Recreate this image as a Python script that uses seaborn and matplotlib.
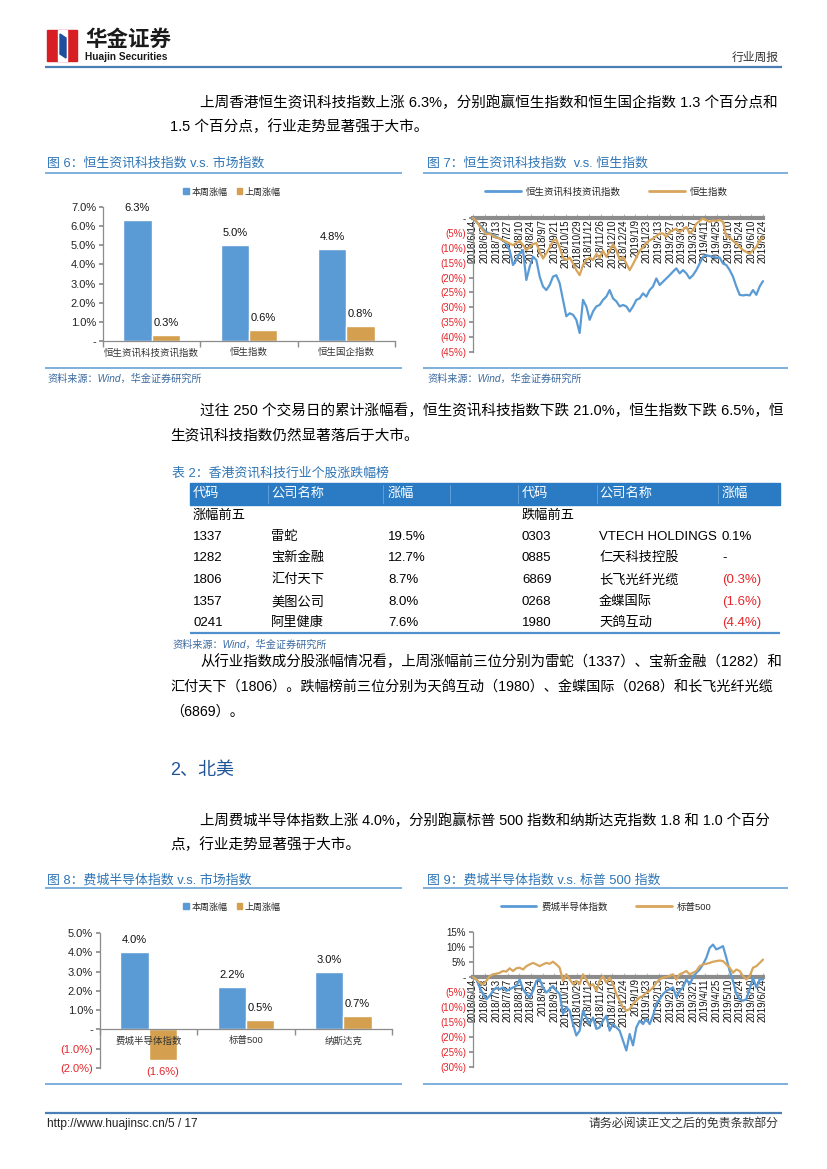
import numpy as np
import pandas as pd
import matplotlib
matplotlib.use("Agg")
import matplotlib.pyplot as plt
import seaborn as sns
from matplotlib.patches import Rectangle, Patch, Polygon
from matplotlib.lines import Line2D

sns.set_theme(style="white")
plt.rcParams["font.family"] = ["Liberation Sans", "Noto Sans CJK SC", "DejaVu Sans"]
plt.rcParams["axes.unicode_minus"] = False

# ---------------- data ----------------
series_names = ["本周涨幅", "上周涨幅"]

bar6_categories = ["恒生资讯科技资讯指数", "恒生指数", "恒生国企指数"]
bar6_this_week = [6.3, 5.0, 4.8]
bar6_last_week = [0.3, 0.6, 0.8]

bar8_categories = ["费城半导体指数", "标普500", "纳斯达克"]
bar8_this_week = [4.0, 2.2, 3.0]
bar8_last_week = [-1.6, 0.5, 0.7]

line7_names = ["恒生资讯科技资讯指数", "恒生指数"]
line7_dates = ["2018/6/14", "2018/6/29", "2018/7/13", "2018/7/27", "2018/8/10", "2018/8/24",
               "2018/9/7", "2018/9/21", "2018/10/15", "2018/10/29", "2018/11/12", "2018/11/26",
               "2018/12/10", "2018/12/24", "2019/1/9", "2019/1/23", "2019/2/13", "2019/2/27",
               "2019/3/13", "2019/3/27", "2019/4/11", "2019/4/25", "2019/5/10", "2019/5/24",
               "2019/6/10", "2019/6/24"]
line7_tech = [0, -1.3, -2.4, -3.6, -4.7, -5.2, -5.8, -6.3, -6.9, -7.5, -8.6, -10.8, -15.8, -14.1,
              -11.9, -10.8, -20.8, -16.4, -13.0, -14.1, -19.7, -23.0, -24.2, -22.5, -19.7, -19.2,
              -21.9, -27.5, -33.0, -32.0, -32.5, -34.2, -38.6, -27.5, -29.7, -34.2, -31.4, -29.7,
              -29.2, -27.5, -26.4, -24.2, -27.0, -28.0, -29.7, -29.2, -29.7, -31.4, -29.7, -27.5,
              -27.0, -25.3, -26.4, -24.2, -23.0, -20.3, -22.5, -21.4, -20.3, -19.2, -18.0, -16.9,
              -18.6, -17.5, -18.6, -20.3, -19.2, -17.5, -15.3, -13.0, -12.5, -12.8, -13.0, -13.3,
              -13.3, -15.3, -15.8, -17.5, -19.7, -23.0, -25.8, -26.0, -25.8, -26.0, -24.2, -25.8,
              -23.0, -21.2]
line7_hsi = [0, -1.0, -2.8, -4.1, -5.5, -5.2, -6.1, -6.6, -6.9, -7.5, -8.0, -8.6, -9.1, -8.4,
             -7.7, -9.1, -10.8, -9.7, -8.8, -8.4, -11.4, -13.6, -11.9, -9.9, -7.7, -7.2, -9.9,
             -13.3, -14.1, -13.3, -15.3, -17.5, -19.2, -15.8, -14.1, -13.3, -14.1, -12.1, -13.3,
             -11.0, -13.0, -11.0, -8.8, -10.8, -14.1, -13.0, -15.3, -17.5, -15.5, -13.3, -11.0,
             -9.9, -8.4, -7.5, -6.9, -6.1, -5.2, -5.2, -6.3, -4.7, -4.1, -3.6, -4.7, -3.9, -3.0,
             -5.2, -4.1, -1.9, -1.0, -0.2, -0.8, -1.3, -0.8, -1.0, -0.6, -1.3, -6.3, -6.6, -7.7,
             -8.6, -9.7, -10.8, -11.4, -11.9, -10.8, -9.7, -7.5, -6.5]

line9_names = ["费城半导体指数", "标普500"]
line9_dates = ["2018/6/14", "2018/6/28", "2018/7/13", "2018/7/27", "2018/8/10", "2018/8/24",
               "2018/9/7", "2018/9/21", "2018/10/15", "2018/10/29", "2018/11/12", "2018/11/26",
               "2018/12/10", "2018/12/24", "2019/1/9", "2019/1/23", "2019/2/13", "2019/2/27",
               "2019/3/13", "2019/3/27", "2019/4/11", "2019/4/25", "2019/5/10", "2019/5/24",
               "2019/6/10", "2019/6/24"]
line9_sox = [0, -0.8, -3.5, -5.7, -7.4, -6.3, -4.6, -3.5, -4.1, -3.5, -4.6, -4.1, -3.5, -3.0,
             -0.8, -4.1, -5.7, -6.8, -4.6, -1.3, -0.8, -3.5, -5.2, -4.1, -3.0, -4.6, -5.7, -12.3,
             -10.1, -11.2, -15.7, -19.5, -17.9, -11.2, -13.5, -15.7, -13.5, -17.3, -16.8, -14.6,
             -12.9, -17.9, -15.7, -16.8, -17.9, -21.2, -24.5, -19.0, -22.8, -16.8, -14.6, -15.7,
             -14.0, -15.7, -12.9, -9.0, -7.4, -5.7, -4.6, -4.1, -3.5, -6.8, -4.6, -3.5, -0.8,
             -2.4, -0.2, 1.4, 2.5, 4.2, 6.4, 9.7, 10.8, 9.2, 9.7, 10.3, 6.4, 2.0, -1.3, -5.7,
             -7.4, -7.9, -7.4, -4.1, -0.2, -3.5, -0.8, -0.8]
line9_spx = [0, -0.8, -1.9, -2.4, -1.3, 0.3, 0.9, 1.1, 1.4, 2.0, 1.8, 2.9, 2.0, 2.9, 3.1, 2.5,
             3.6, 4.2, 4.7, 4.2, 3.6, 4.2, 4.7, 4.4, 5.1, 4.2, 3.1, -1.3, 0.9, -0.8, -2.4, -1.3,
             -2.4, 0.9, -0.8, -3.0, -2.4, -4.6, -1.3, 0.3, -1.9, -0.2, -2.4, -5.7, -7.9, -10.1,
             -11.2, -10.7, -9.0, -7.9, -6.8, -6.3, -5.2, -4.6, -3.5, -1.9, -0.8, -0.2, 0.0, 0.3,
             0.9, -0.8, 0.9, 1.4, 2.0, 0.9, 1.4, 2.0, 3.6, 4.2, 4.4, 4.7, 5.1, 5.3, 5.5, 5.3,
             4.2, 3.1, 1.4, 2.5, 2.0, 0.3, -0.8, 0.3, 3.1, 3.6, 4.7, 5.8]

table_gainer_codes = ["1337", "1282", "1806", "1357", "0241"]
table_gainer_names = ["雷蛇", "宝新金融", "汇付天下", "美图公司", "阿里健康"]
table_gainer_changes = [19.5, 12.7, 8.7, 8.0, 7.6]
table_loser_codes = ["0303", "0885", "6869", "0268", "1980"]
table_loser_names = ["VTECH HOLDINGS", "仁天科技控股", "长飞光纤光缆", "金蝶国际", "天鸽互动"]
table_loser_changes = [0.1, 0.0, -0.3, -1.6, -4.4]

# ---------------- style ----------------
BLUE = "#5b9bd5"
GOLD = "#d4a04f"
LGOLD = "#d8a55c"
RED = "#e3262b"
TITLE = "#2e75b6"
RULE = "#5b9bd5"
W, H = 827, 1169
BODY = 10.5

fig = plt.figure(figsize=(W / 100, H / 100), dpi=100)
ov = fig.add_axes([0, 0, 1, 1])
ov.set_xlim(0, W)
ov.set_ylim(H, 0)
ov.axis("off")


def T(x, y, s, size=BODY, color="black", ha="left", va="center", **kw):
    ov.text(x, y, s, fontsize=size, color=color, ha=ha, va=va, **kw)


def HL(x0, x1, y, color=RULE, lw=1.1):
    ov.plot([x0, x1], [y, y], color=color, lw=lw, solid_capstyle="butt")


def AX(l, t, r, b):
    return fig.add_axes([l / W, 1 - b / H, (r - l) / W, (b - t) / H])


def pct_bar(v):
    if v == 0:
        return "-"
    return f"{v:.1f}%" if v > 0 else f"({-v:.1f}%)"


def pct_int(v):
    if v == 0:
        return "-"
    return f"{v:.0f}%" if v > 0 else f"({-v:.0f}%)"


# ---------------- header ----------------
ov.add_patch(Rectangle((47, 30), 30, 31, color="#d81e25", zorder=2))
ov.add_patch(Rectangle((58, 30), 9, 31, color="white", zorder=3))
ov.add_patch(Polygon([(60, 34), (66, 38), (66, 58), (60, 54)], color="#1f4e9c", zorder=4))
T(85, 40, "华金证券", size=15.5, weight="bold", color="#1a1a1a")
T(85, 57, "Huajin Securities", size=7.3, weight="bold", color="#1a1a1a")
T(779, 58, "行业周报", size=8.5, color="#333333", ha="right")
HL(45, 782, 67, color="#4a7fb5", lw=1.6)

# ---------------- paragraphs ----------------
T(200, 103, "上周香港恒生资讯科技指数上涨 6.3%，分别跑赢恒生指数和恒生国企指数 1.3 个百分点和")
T(170, 127, "1.5 个百分点，行业走势显著强于大市。")

T(200, 411, "过往 250 个交易日的累计涨幅看，恒生资讯科技指数下跌 21.0%，恒生指数下跌 6.5%，恒")
T(170, 436, "生资讯科技指数仍然显著落后于大市。")

T(200, 662, "从行业指数成分股涨幅情况看，上周涨幅前三位分别为雷蛇（1337）、宝新金融（1282）和", size=10.4)
T(170, 687, "汇付天下（1806）。跌幅榜前三位分别为天鸽互动（1980）、金蝶国际（0268）和长飞光纤光缆", size=10.2)
T(170, 712, "（6869）。", size=10.2)

T(170, 770, "2、北美", size=13, color="#1f5597")

T(200, 821, "上周费城半导体指数上涨 4.0%，分别跑赢标普 500 指数和纳斯达克指数 1.8 和 1.0 个百分", size=10.4)
T(170, 845, "点，行业走势显著强于大市。")

# ---------------- chart frames ----------------
T(47, 164, "图 6：恒生资讯科技指数 v.s. 市场指数", size=9.3, color=TITLE)
T(427, 164, "图 7：恒生资讯科技指数  v.s. 恒生指数", size=9.3, color=TITLE)
HL(45, 402, 173)
HL(423, 788, 173)
HL(45, 402, 368)
HL(423, 788, 368)
T(47, 379, "资料来源：Wind，华金证券研究所", size=7.3, color="#3b6aa0", style="italic")
T(427, 379, "资料来源：Wind，华金证券研究所", size=7.3, color="#3b6aa0", style="italic")

T(47, 880, "图 8：费城半导体指数 v.s. 市场指数", size=9.3, color=TITLE)
T(427, 880, "图 9：费城半导体指数 v.s. 标普 500 指数", size=9.3, color=TITLE)
HL(45, 402, 888)
HL(423, 788, 888)
HL(45, 402, 1084)
HL(423, 788, 1084)

# ---------------- table ----------------
T(172, 474, "表 2：香港资讯科技行业个股涨跌幅榜", size=9.3, color=TITLE)
ov.add_patch(Rectangle((190, 483), 590, 22, color="#2a7bc3", zorder=2))
for xs in [268, 383, 450, 518, 597, 718]:
    ov.plot([xs, xs], [485, 503], color="#6aa5dc", lw=0.6, zorder=3)
col_x = [193, 271, 388, 522, 599, 722]
for x, s in zip(col_x, ["代码", "公司名称", "涨幅", "代码", "公司名称", "涨幅"]):
    T(x, 494, s, size=9.5, color="white", zorder=4)
T(193, 516, "涨幅前五", size=9.5)
T(522, 516, "跌幅前五", size=9.5)
row_y = [537, 558, 580, 602, 623]
for i, y in enumerate(row_y):
    T(col_x[0], y, table_gainer_codes[i], size=9.5)
    T(col_x[1], y, table_gainer_names[i], size=9.5)
    T(col_x[2], y, pct_bar(table_gainer_changes[i]), size=9.5)
    T(col_x[3], y, table_loser_codes[i], size=9.5)
    T(col_x[4], y, table_loser_names[i], size=9.5)
    v = table_loser_changes[i]
    T(col_x[5], y, pct_bar(v), size=9.5, color=RED if v < 0 else "black")
HL(190, 780, 633, color="#4f8fcc", lw=1.6)
T(172, 645, "资料来源：Wind，华金证券研究所", size=7.3, color="#3b6aa0", style="italic")

# ---------------- footer ----------------
HL(45, 782, 1113, color="#4a7fb5", lw=1.6)
T(47, 1124, "http://www.huajinsc.cn/5 / 17", size=8.6, color="#222222")
T(779, 1124, "请务必阅读正文之后的免责条款部分", size=8.6, color="#333333", ha="right")


# ---------------- bar charts ----------------
def bar_chart(ax, cats, this_w, last_w, ymin, ymax, legend_xy):
    df = pd.DataFrame({
        "cat": cats + cats,
        "series": [series_names[0]] * len(cats) + [series_names[1]] * len(cats),
        "value": this_w + last_w,
    })
    sns.barplot(data=df, x="cat", y="value", hue="series", palette=[BLUE, GOLD],
                width=0.58, saturation=1, ax=ax, legend=False, errorbar=None)
    for p in ax.patches:
        p.set_zorder(1)
    ax.set_axisbelow(False)
    for s in ["top", "right"]:
        ax.spines[s].set_visible(False)
    for s in ["left", "bottom"]:
        ax.spines[s].set_color("#8c8c8c")
        ax.spines[s].set_linewidth(0.9)
    ax.spines["bottom"].set_position(("data", 0))
    ax.set_xlim(-0.5, len(cats) - 0.5)
    ax.set_ylim(ymin, ymax)
    ticks = np.arange(ymin, ymax + 0.001, 1.0)
    ax.set_yticks(ticks)
    ax.set_yticklabels([pct_bar(round(t, 1)) for t in ticks])
    for lab, t in zip(ax.get_yticklabels(), ticks):
        lab.set_color(RED if t < 0 else "#222222")
    ax.set_xticks(range(len(cats)))
    ax.set_xticklabels(cats)
    ax.set_xlabel("")
    ax.set_ylabel("")
    ax.tick_params(axis="y", labelsize=8, length=3, color="#8c8c8c", direction="out", pad=2, left=True)
    ax.tick_params(axis="x", which="major", labelsize=6.8, labelcolor="#333333", length=0, pad=5)
    ax.set_xticks(np.arange(-0.5, len(cats), 1.0), minor=True)
    ax.tick_params(axis="x", which="minor", length=4, color="#8c8c8c", direction="out", bottom=True)
    for cont in ax.containers:
        vals = [b.get_height() for b in cont]
        labs = ax.bar_label(cont, labels=[pct_bar(v) for v in vals], padding=5, fontsize=8, color="#111111")
        for t, v in zip(labs, vals):
            if v < 0:
                t.set_color(RED)
    handles = [Patch(color=BLUE), Patch(color=GOLD)]
    ax.legend(handles, series_names, loc="center", bbox_to_anchor=(legend_xy[0] / W, 1 - legend_xy[1] / H),
              bbox_transform=fig.transFigure, ncol=2, frameon=False, fontsize=6.5,
              handlelength=0.6, handleheight=0.6, handletextpad=0.3, columnspacing=1.0)


ax6 = AX(103, 207, 395, 341)
bar_chart(ax6, bar6_categories, bar6_this_week, bar6_last_week, 0, 7, (232, 192))
ax8 = AX(100, 933, 392, 1068)
bar_chart(ax8, bar8_categories, bar8_this_week, bar8_last_week, -2, 5, (232, 907))


# ---------------- line charts ----------------
def line_chart(ax, s1, s2, names, dates, ymin, ymax, legend_xy):
    n = len(s1)
    pos = np.linspace(0, len(dates) - 1, n)
    df = pd.DataFrame({
        "pos": np.concatenate([pos, pos]),
        "value": list(s1) + list(s2),
        "series": [names[0]] * n + [names[1]] * n,
    })
    sns.lineplot(data=df, x="pos", y="value", hue="series", palette=[BLUE, LGOLD],
                 linewidth=1.6, ax=ax, legend=False, zorder=3)
    for ln in ax.lines:
        ln.set_clip_on(False)
    for s in ["top", "right"]:
        ax.spines[s].set_visible(False)
    ax.spines["left"].set_color("#8c8c8c")
    ax.spines["left"].set_linewidth(0.9)
    ax.spines["bottom"].set_position(("data", 0))
    ax.spines["bottom"].set_color("#8c8c8c")
    ax.spines["bottom"].set_linewidth(3)
    ax.spines["bottom"].set_zorder(2)
    ax.set_xlim(0, len(dates) - 1)
    ax.set_ylim(ymin, ymax)
    ticks = np.arange(ymin, ymax + 0.001, 5)
    ax.set_yticks(ticks)
    ax.set_yticklabels([pct_int(int(t)) for t in ticks])
    for lab, t in zip(ax.get_yticklabels(), ticks):
        lab.set_color(RED if t < 0 else "#222222")
    ax.set_xticks(np.arange(len(dates)))
    ax.set_xticklabels(dates)
    ax.set_xlabel("")
    ax.set_ylabel("")
    ax.tick_params(axis="y", labelsize=7, length=3, color="#8c8c8c", direction="out", pad=2, left=True)
    ax.tick_params(axis="x", labelsize=7, labelcolor="#111111", length=3, color="#bfbfbf",
                   direction="in", pad=1, bottom=True, width=0.8, labelrotation=90)
    for lab in ax.get_xticklabels():
        lab.set_zorder(4)
    handles = [Line2D([], [], color=BLUE, lw=2), Line2D([], [], color=LGOLD, lw=2)]
    ax.legend(handles, names, loc="center", bbox_to_anchor=(legend_xy[0] / W, 1 - legend_xy[1] / H),
              bbox_transform=fig.transFigure, ncol=2, frameon=False, fontsize=6.8,
              handlelength=3.8, handletextpad=0.5, columnspacing=3.0)


ax7 = AX(473, 218, 763, 352)
line_chart(ax7, line7_tech, line7_hsi, line7_names, line7_dates, -45, 0, (606, 192))
ax9 = AX(473, 932, 763, 1067)
line_chart(ax9, line9_sox, line9_spx, line9_names, line9_dates, -30, 15, (606, 907))

fig.savefig("out.png", dpi=100)
